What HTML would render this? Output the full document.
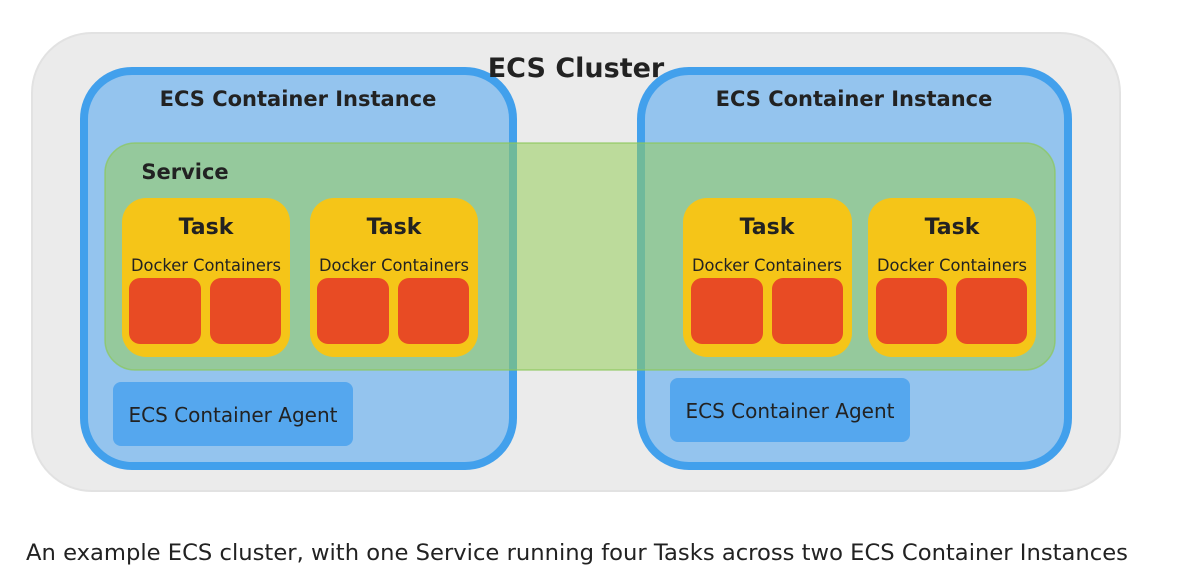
<!DOCTYPE html>
<html><head><meta charset="utf-8"><style>
html,body{margin:0;padding:0;background:#fff;}
svg{display:block;}
text{font-family:"DejaVu Sans","Liberation Sans",sans-serif;}
</style></head><body>
<svg width="1179" height="580" viewBox="0 0 1179 580" xmlns="http://www.w3.org/2000/svg">
<rect x="0" y="0" width="1179" height="580" fill="#fff"/>
<rect x="32" y="33" width="1088" height="458" rx="60" fill="#ebebeb" stroke="#e2e2e2" stroke-width="2"/>
<rect x="84" y="71" width="429" height="395" rx="48" fill="#94c4ee" stroke="#42a0ec" stroke-width="8"/>
<rect x="641" y="71" width="427" height="395" rx="48" fill="#94c4ee" stroke="#42a0ec" stroke-width="8"/>
<text x="576" y="77" font-size="27" font-weight="bold" text-anchor="middle" fill="#222">ECS Cluster</text>
<text x="298" y="106" font-size="21" font-weight="bold" text-anchor="middle" fill="#222">ECS Container Instance</text>
<text x="854" y="106" font-size="21" font-weight="bold" text-anchor="middle" fill="#222">ECS Container Instance</text>
<rect x="113" y="382" width="240" height="64" rx="8" fill="#55a7ee"/>
<text x="233" y="422" font-size="20" text-anchor="middle" fill="#222">ECS Container Agent</text>
<rect x="670" y="378" width="240" height="64" rx="8" fill="#55a7ee"/>
<text x="790" y="418" font-size="20" text-anchor="middle" fill="#222">ECS Container Agent</text>
<rect x="105" y="143" width="950" height="227" rx="30" fill="rgba(150,205,90,0.55)" stroke="rgba(140,200,90,0.7)" stroke-width="1.5"/>
<text x="185" y="179" font-size="21" font-weight="bold" text-anchor="middle" fill="#222">Service</text>
<g>
<rect x="122" y="198" width="168" height="159" rx="24" fill="#f5c518"/>
<text x="206" y="234" font-size="22" font-weight="bold" text-anchor="middle" fill="#222">Task</text>
<text x="206" y="271" font-size="16.5" text-anchor="middle" fill="#222" textLength="150" lengthAdjust="spacingAndGlyphs">Docker Containers</text>
<rect x="129" y="278" width="72" height="66" rx="11" fill="#e84b24"/>
<rect x="210" y="278" width="71" height="66" rx="11" fill="#e84b24"/>
</g>
<g>
<rect x="310" y="198" width="168" height="159" rx="24" fill="#f5c518"/>
<text x="394" y="234" font-size="22" font-weight="bold" text-anchor="middle" fill="#222">Task</text>
<text x="394" y="271" font-size="16.5" text-anchor="middle" fill="#222" textLength="150" lengthAdjust="spacingAndGlyphs">Docker Containers</text>
<rect x="317" y="278" width="72" height="66" rx="11" fill="#e84b24"/>
<rect x="398" y="278" width="71" height="66" rx="11" fill="#e84b24"/>
</g>
<g>
<rect x="683" y="198" width="169" height="159" rx="24" fill="#f5c518"/>
<text x="767" y="271" font-size="16.5" text-anchor="middle" fill="#222" textLength="150" lengthAdjust="spacingAndGlyphs">Docker Containers</text>
<text x="767" y="234" font-size="22" font-weight="bold" text-anchor="middle" fill="#222">Task</text>
<rect x="691" y="278" width="72" height="66" rx="11" fill="#e84b24"/>
<rect x="772" y="278" width="71" height="66" rx="11" fill="#e84b24"/>
</g>
<g>
<rect x="868" y="198" width="168" height="159" rx="24" fill="#f5c518"/>
<text x="952" y="234" font-size="22" font-weight="bold" text-anchor="middle" fill="#222">Task</text>
<text x="952" y="271" font-size="16.5" text-anchor="middle" fill="#222" textLength="150" lengthAdjust="spacingAndGlyphs">Docker Containers</text>
<rect x="876" y="278" width="71" height="66" rx="11" fill="#e84b24"/>
<rect x="956" y="278" width="71" height="66" rx="11" fill="#e84b24"/>
</g>
<text x="26" y="560" font-size="22.5" fill="#222" font-family="Liberation Sans, sans-serif" textLength="1102" lengthAdjust="spacingAndGlyphs">An example ECS cluster, with one Service running four Tasks across two ECS Container Instances</text>
</svg>
</body></html>
